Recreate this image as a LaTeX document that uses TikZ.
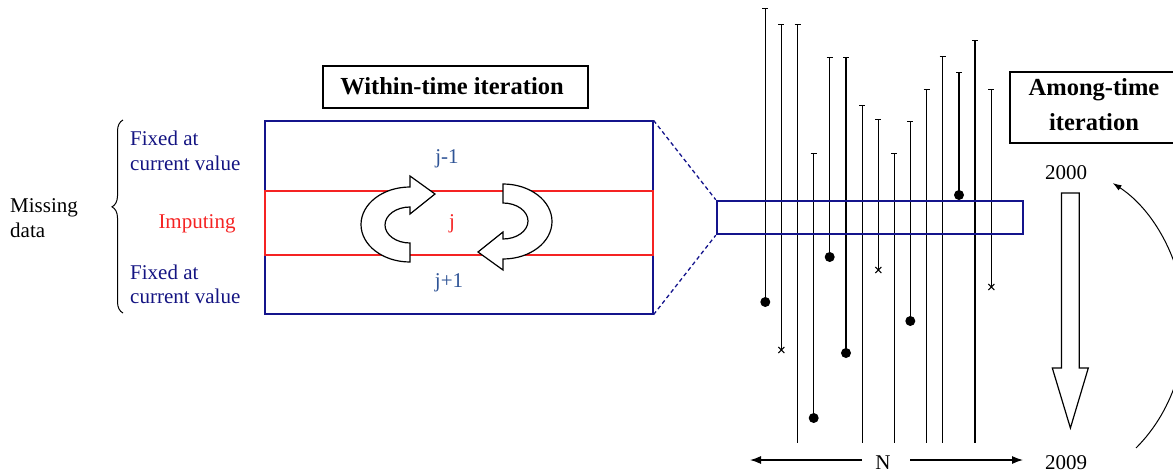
\documentclass[tikz,border=0pt]{standalone}
\usepackage{fontspec}
\setmainfont{Liberation Serif}
\usetikzlibrary{arrows.meta,decorations.pathreplacing}
\definecolor{fixcol}{RGB}{20,20,130}
\definecolor{jcol}{RGB}{47,84,150}
\definecolor{impred}{RGB}{245,35,35}
\definecolor{boxblue}{RGB}{20,20,140}
\tikzset{
  txt/.style={font=\fontsize{21}{24}\selectfont, inner sep=0pt, anchor=base},
  ttl/.style={font=\fontsize{24.5}{35}\selectfont\bfseries, inner sep=0pt, anchor=base},
  vline/.style={line width=1.3pt, black},
  blockshape/.style={draw=black, fill=white, line width=1.2pt, line join=miter},
  titlebox/.style={draw=black, line width=1.2pt, inner sep=0pt},
}
\begin{document}
\begin{tikzpicture}[x=1pt,y=1pt]
\useasboundingbox (0,0) rectangle (1173,-474);
\clip (0,0) rectangle (1173,-474);

% title boxes
\node[titlebox, minimum width=265pt, minimum height=42pt] (wbox) at (455.5,-87) {};
\node[ttl] (wtxt) at (452,-94) {Within-time iteration};
\node[titlebox, minimum width=168pt, minimum height=71pt] (abox) at (1094,-107.5) {};
\node[ttl] (atxt1) at (1094,-95) {Among-time};
\node[ttl] (atxt2) at (1094,-130) {iteration};

% main box
\node[draw=boxblue, line width=1.2pt, minimum width=388pt, minimum height=193pt, inner sep=0pt] (outer) at (459,-217.5) {};
\node[draw=impred, line width=1.2pt, minimum width=388pt, minimum height=64pt, inner sep=0pt] (redbox) at (459,-223) {};
\node[txt, text=jcol] (jm) at (447,-163) {j-1};
\node[txt, text=impred] (jj) at (452,-228) {j};
\node[txt, text=jcol] (jp) at (449,-287) {j+1};

% circular block arrows
\begin{scope}
\draw[blockshape] (410,-262) coordinate (lstart)
  arc[start angle=270, end angle=90, x radius=49, y radius=37.5]
  -- (410,-176) -- (435,-194) -- (410,-214) -- (410,-207)
  arc[start angle=90, end angle=270, x radius=25, y radius=18] -- cycle;
\end{scope}
\begin{scope}[rotate around={180:(456.5,-223)}]
\draw[blockshape] (410,-262) coordinate (rstart)
  arc[start angle=270, end angle=90, x radius=49, y radius=37.5]
  -- (410,-176) -- (435,-194) -- (410,-214) -- (410,-207)
  arc[start angle=90, end angle=270, x radius=25, y radius=18] -- cycle;
\end{scope}

% left labels
\node[txt, anchor=base west] (miss1) at (10,-212) {Missing};
\node[txt, anchor=base west] (miss2) at (10,-237) {data};
\coordinate (brB) at (123,-313);
\coordinate (brT) at (123,-120);
\draw[line width=1pt, decorate, decoration={brace, amplitude=11pt, aspect=0.55}] (brB) -- (brT);
\node[txt, anchor=base west, text=fixcol] (f1a) at (130,-145) {Fixed at};
\node[txt, anchor=base west, text=fixcol] (f1b) at (130,-170) {current value};
\node[txt, text=impred] (imp) at (197,-228) {Imputing};
\node[txt, anchor=base west, text=fixcol] (f2a) at (130,-279) {Fixed at};
\node[txt, anchor=base west, text=fixcol] (f2b) at (130,-303) {current value};

% vertical lines
\foreach \x/\t/\b/\k [count=\i] in {
  765.3/8/302/1, 781.3/24/350/2, 797.7/24/443/0, 813.7/153/418/1,
  829.7/57/257/1, 846/57/353/1, 862.3/105/443/0, 878.3/119/270/2,
  894.3/153/443/0, 910.3/121/321/1, 926.7/89/443/0, 942.7/56/443/0,
  959/72/195/1, 975/40/443/0, 991.3/89/287/2} {
  \coordinate (t\i) at (\x,-\t);
  \coordinate (b\i) at (\x,-\b);
  \draw[vline] (t\i) -- (b\i);
  \draw[line width=1pt] ([xshift=-3pt]t\i) -- ([xshift=3pt]t\i);
  \ifnum\k=1 \fill (b\i) circle (5); \fi
  \ifnum\k=2 \draw[line width=1pt] (b\i) +(-3,-3) -- +(3,3) +(-3,3) -- +(3,-3); \fi
}

% strip
\node[draw=boxblue, line width=2.5pt, minimum width=306pt, minimum height=33pt, inner sep=0pt] (strip) at (870,-217.5) {};
\draw[boxblue, line width=1.3pt, dash pattern=on 4pt off 3pt] (outer.north east) -- (strip.north west);
\draw[boxblue, line width=1.3pt, dash pattern=on 4pt off 3pt] (outer.south east) -- (strip.south west);

% N arrows
\node[txt] (N) at (883,-469) {N};
\coordinate (nl) at (750,-460);
\coordinate (nr) at (1023,-460);
\draw[line width=1.2pt, -{Latex[length=11pt,width=8pt]}] (862,-460) -- (nl);
\draw[line width=1.2pt, -{Latex[length=11pt,width=8pt]}] (910,-460) -- (nr);

% among-time
\node[txt] (y2000) at (1066,-179) {2000};
\node[txt] (y2009) at (1066,-469) {2009};
\draw[blockshape] (1061.5,-193) coordinate (bs) -- (1079.3,-193) -- (1079.3,-368) -- (1088.3,-368)
  -- (1070.4,-428) coordinate (btip) -- (1052.3,-368) -- (1061.5,-368) -- cycle;
\coordinate (arcS) at (1136,-448);
\draw[line width=1pt, -{Latex[length=9pt,width=6pt]}] (arcS)
  arc[start angle=-48.6, end angle=60, x radius=145, y radius=164];
\end{tikzpicture}
\end{document}
